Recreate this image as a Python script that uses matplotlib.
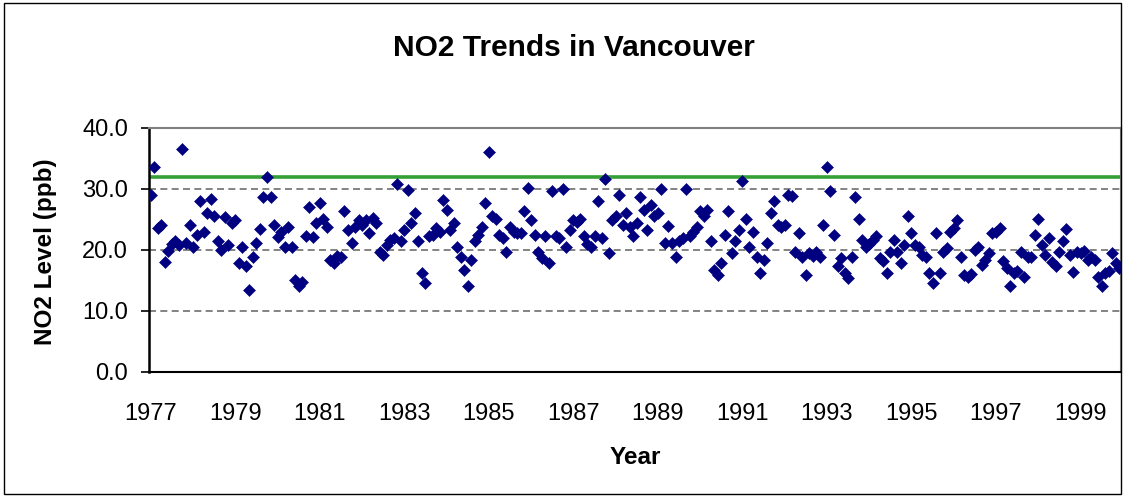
import numpy as np
import matplotlib.pyplot as plt
from matplotlib.patches import Rectangle

plt.rcParams['font.family'] = ['Liberation Sans', 'DejaVu Sans']

# monthly NO2 levels (ppb), Jan 1977 .. Dec 1999
no2_1977 = [29.0, 33.5, 23.5, 24.0, 18.0, 19.8, 21.0, 21.5, 20.8, 36.5, 21.2, 24.0]
no2_1978 = [20.5, 22.5, 28.0, 23.0, 26.0, 28.3, 25.6, 21.5, 20.0, 25.4, 20.8, 24.4]
no2_1979 = [24.9, 17.9, 20.5, 17.3, 13.5, 18.8, 21.1, 23.4, 28.6, 31.9, 28.6, 24.1]
no2_1980 = [22.1, 23.0, 20.5, 23.8, 20.5, 15.1, 14.0, 14.8, 22.2, 27.0, 22.1, 24.4]
no2_1981 = [27.6, 25.0, 23.8, 18.4, 17.8, 19.0, 18.9, 26.4, 23.3, 21.1, 23.8, 24.9]
no2_1982 = [24.0, 24.9, 22.7, 25.2, 24.4, 19.7, 19.2, 20.8, 21.6, 21.9, 30.7, 21.5]
no2_1983 = [23.3, 29.8, 24.4, 26.0, 21.4, 16.2, 14.5, 22.2, 22.5, 23.6, 23.0, 28.1]
no2_1984 = [26.6, 23.3, 24.4, 20.5, 18.9, 16.7, 14.0, 18.4, 21.4, 22.5, 23.8, 27.6]
no2_1985 = [36.1, 25.5, 25.0, 22.5, 22.0, 19.7, 23.8, 23.0, 22.7, 22.7, 26.3, 30.1]
no2_1986 = [24.9, 22.5, 19.7, 18.6, 22.2, 17.8, 29.7, 22.2, 22.0, 29.9, 20.5, 23.3]
no2_1987 = [24.9, 24.5, 25.0, 22.2, 21.0, 20.5, 22.2, 28.0, 22.0, 31.6, 19.5, 24.9]
no2_1988 = [25.5, 28.9, 24.0, 26.0, 23.8, 22.2, 24.4, 28.7, 26.6, 23.3, 27.4, 25.5]
no2_1989 = [26.0, 29.9, 21.1, 23.9, 21.1, 18.9, 21.4, 22.0, 29.9, 22.2, 23.0, 23.8]
no2_1990 = [26.3, 25.5, 26.6, 21.4, 16.7, 15.9, 17.8, 22.5, 26.3, 19.5, 21.4, 23.3]
no2_1991 = [31.3, 25.1, 20.5, 23.0, 18.9, 16.2, 18.4, 21.1, 26.0, 28.0, 24.1, 23.8]
no2_1992 = [24.0, 29.0, 28.8, 19.7, 22.7, 18.9, 15.9, 19.5, 19.0, 19.7, 18.9, 24.1]
no2_1993 = [33.5, 29.6, 22.5, 17.3, 18.6, 16.2, 15.4, 18.9, 28.6, 25.0, 21.6, 20.5]
no2_1994 = [21.0, 21.6, 22.2, 18.6, 18.1, 16.2, 19.7, 21.6, 19.7, 17.8, 20.8, 25.6]
no2_1995 = [22.7, 20.8, 20.5, 19.2, 18.9, 16.2, 14.5, 22.7, 16.2, 19.7, 20.3, 23.0]
no2_1996 = [23.5, 24.9, 18.8, 15.9, 15.6, 16.0, 20.0, 20.5, 17.5, 18.4, 19.5, 22.7]
no2_1997 = [23.0, 23.6, 18.1, 17.0, 14.0, 16.2, 16.5, 19.7, 15.6, 18.9, 18.9, 22.5]
no2_1998 = [25.0, 20.8, 19.2, 21.9, 18.0, 17.3, 19.7, 21.4, 23.4, 19.2, 16.4, 19.7]
no2_1999 = [19.5, 19.8, 18.4, 18.9, 18.4, 15.6, 14.0, 16.2, 16.5, 19.5, 17.8, 17.0]

objective = 32.0          # green reference line (ppb)
tick_years = list(range(1977, 2000, 2))

no2 = np.concatenate([no2_1977, no2_1978, no2_1979, no2_1980, no2_1981, no2_1982,
                      no2_1983, no2_1984, no2_1985, no2_1986, no2_1987, no2_1988,
                      no2_1989, no2_1990, no2_1991, no2_1992, no2_1993, no2_1994,
                      no2_1995, no2_1996, no2_1997, no2_1998, no2_1999])
month = np.arange(len(no2))

W, H = 1124, 497
fig = plt.figure(figsize=(W / 100, H / 100), dpi=100)
fig.patches.append(Rectangle((4 / W, 3 / H), (W - 7) / W, (H - 6) / H,
                             transform=fig.transFigure, fill=False,
                             edgecolor='black', lw=1.0))

ax = fig.add_axes([149 / W, 1 - 372 / H, (1121 - 149) / W, (372 - 127.7) / H])

for y in (10, 20, 30):
    ax.axhline(y, color='#6e6e6e', lw=1.2, dashes=(4.2, 2.6), zorder=1)
ax.axhline(objective, color='#35a035', lw=2.6, zorder=2)
ax.plot(month, no2, ls='none', marker='D', ms=6.3, color='#000080',
        mec='#000080', mew=0.4, zorder=3)

ax.set_xlim(-0.5, len(no2) - 0.5)
ax.set_ylim(0, 40)
ax.set_yticks([0, 10, 20, 30, 40])
ax.set_yticklabels([f"{v:.1f}" for v in (0, 10, 20, 30, 40)])
ax.set_xticks([(yr - 1977) * 12 for yr in tick_years])
ax.set_xticklabels([str(yr) for yr in tick_years])
ax.tick_params(axis='y', length=6, width=1.2, pad=9, labelsize=17, direction='out')
ax.tick_params(axis='x', length=0, pad=22, labelsize=17)

for side in ('top', 'right'):
    ax.spines[side].set_color('#808080')
    ax.spines[side].set_linewidth(1.5)
ax.spines['left'].set_linewidth(1.8)
ax.spines['bottom'].set_linewidth(1.5)

fig.text(574 / W, 1 - 48 / H, 'NO2 Trends in Vancouver', ha='center', va='center',
         fontsize=21.5, fontweight='bold')
fig.text(46 / W, 1 - 252 / H, 'NO2 Level (ppb)', ha='center', va='center',
         rotation=90, fontsize=17.5, fontweight='bold')
fig.text(635 / W, 1 - 457 / H, 'Year', ha='center', va='center',
         fontsize=17.5, fontweight='bold')

fig.savefig('out.png', dpi=100)
